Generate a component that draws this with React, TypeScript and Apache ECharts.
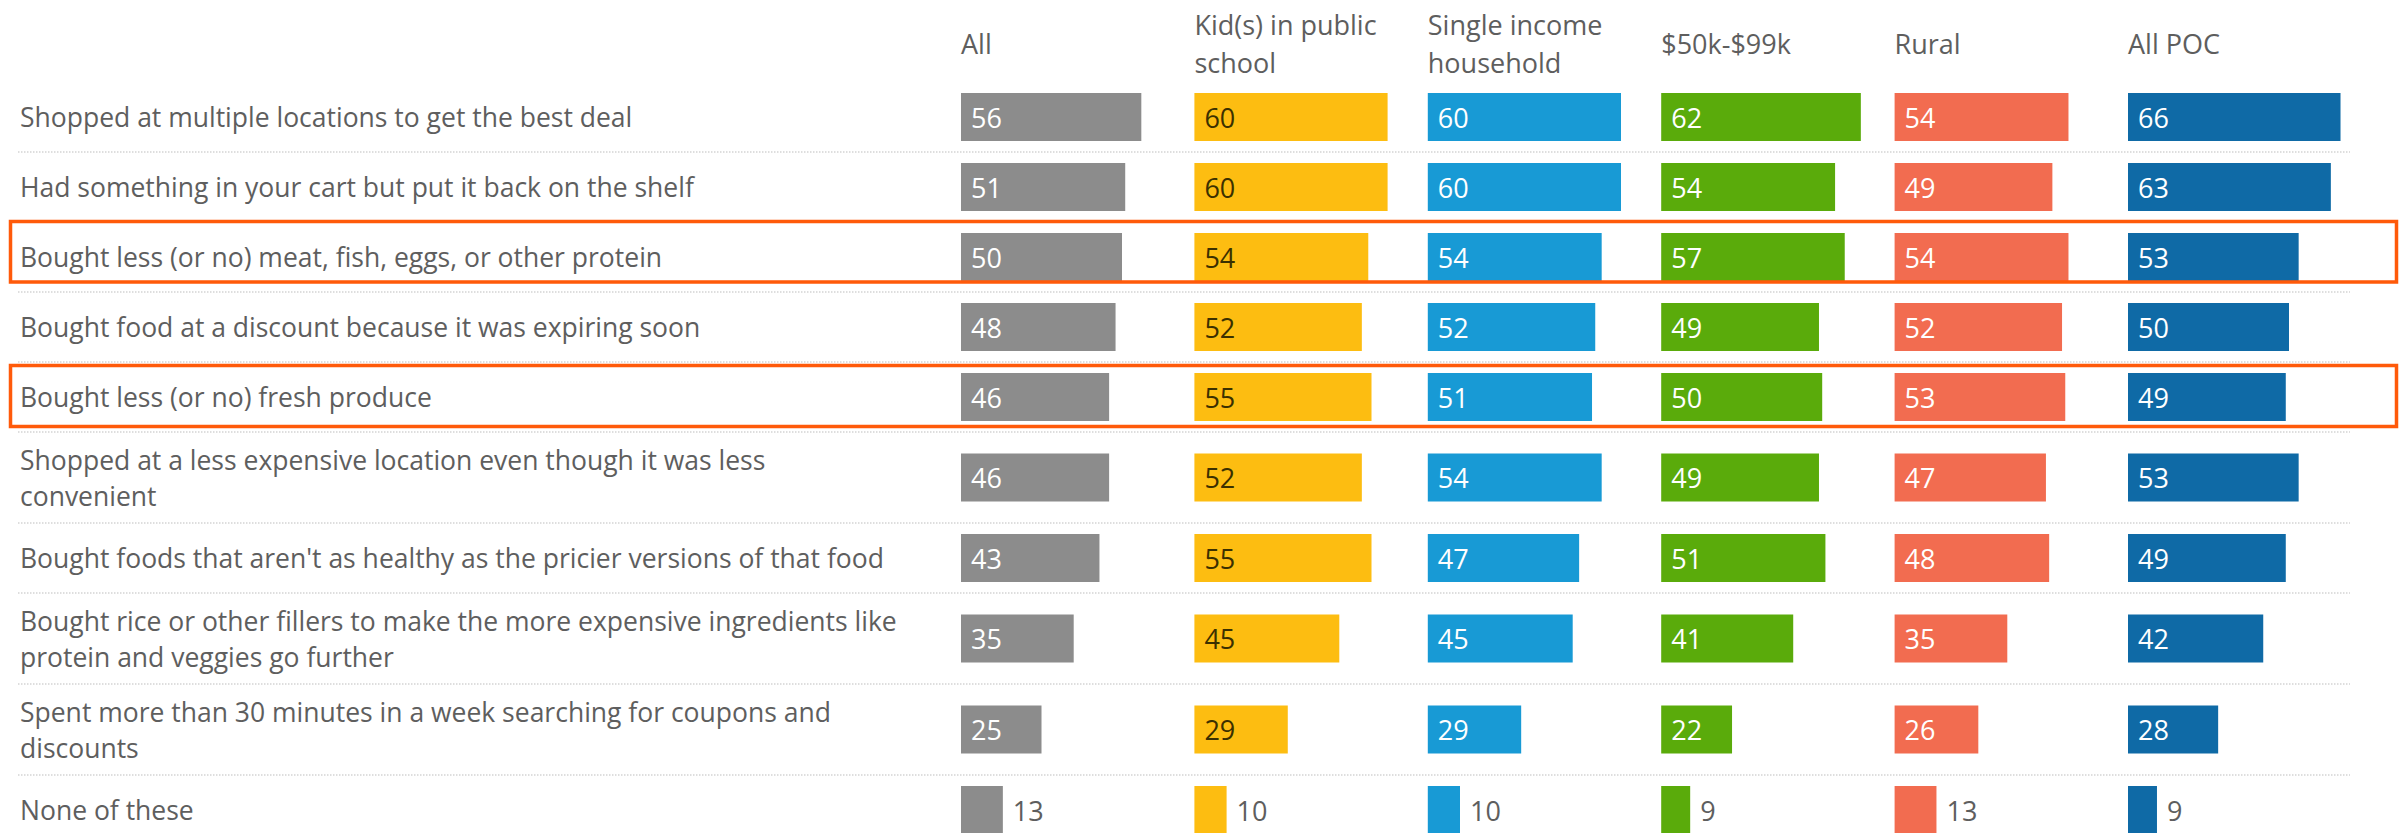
import React, { useEffect, useRef } from 'react';
import * as echarts from 'echarts';

// ---------- data ----------
const categories = [
  'Shopped at multiple locations to get the best deal',
  'Had something in your cart but put it back on the shelf',
  'Bought less (or no) meat, fish, eggs, or other protein',
  'Bought food at a discount because it was expiring soon',
  'Bought less (or no) fresh produce',
  'Shopped at a less expensive location even though it was less\nconvenient',
  "Bought foods that aren't as healthy as the pricier versions of that food",
  'Bought rice or other fillers to make the more expensive ingredients like\nprotein and veggies go further',
  'Spent more than 30 minutes in a week searching for coupons and\ndiscounts',
  'None of these',
];
const groups = ['All', 'Kid(s) in public\nschool', 'Single income\nhousehold', '$50k-$99k', 'Rural', 'All POC'];
const allValues = [56, 51, 50, 48, 46, 46, 43, 35, 25, 13];
const kidsValues = [60, 60, 54, 52, 55, 52, 55, 45, 29, 10];
const singleIncomeValues = [60, 60, 54, 52, 51, 54, 47, 45, 29, 10];
const midIncomeValues = [62, 54, 57, 49, 50, 49, 51, 41, 22, 9];
const ruralValues = [54, 49, 54, 52, 53, 47, 48, 35, 26, 13];
const pocValues = [66, 63, 53, 50, 49, 53, 49, 42, 28, 9];
const highlightedRows = [2, 4];

// ---------- styles / layout ----------
const seriesValues = [allValues, kidsValues, singleIncomeValues, midIncomeValues, ruralValues, pocValues];
const barColors = ['#8c8c8c', '#fdbd11', '#189ad5', '#5aab0b', '#f26c50', '#0f6aa6'];
const insideLabelColors = ['#ffffff', '#3b3000', '#ffffff', '#ffffff', '#ffffff', '#ffffff'];
const FONT = '"Open Sans", Lato, sans-serif';
const TEXT_COLOR = '#5e5e5e';
const COL0_LEFT = 961;
const COL_STEP = 233.4;
const COL_W = 233;
const PX_PER_UNIT = 3.22;
const HEADER_H = 82;
const ROW_H1 = 70;
const ROW_H2 = 91;
const BAR_H = 48;
const LABEL_X = 20;
const BOXES = [
  { y: 221.5, h: 60.5 },
  { y: 365.5, h: 61 },
];

export default function App() {
  const ref = useRef<HTMLDivElement>(null);
  useEffect(() => {
    document.body.style.margin = '0';
    const chart = echarts.init(ref.current!, null, { renderer: 'svg' });

    const rowH = categories.map((c) => (c.split('\n').length > 1 ? ROW_H2 : ROW_H1));
    const rowTop: number[] = [];
    let acc = HEADER_H;
    rowH.forEach((h) => {
      rowTop.push(acc);
      acc += h;
    });

    const grids: any[] = [];
    const xAxes: any[] = [];
    const yAxes: any[] = [];
    const series: any[] = [];
    categories.forEach((cat, r) => {
      seriesValues.forEach((vals, c) => {
        const idx = grids.length;
        const left = COL0_LEFT + c * COL_STEP;
        grids.push({
          left,
          width: COL_W,
          top: rowTop[r],
          height: rowH[r],
          containLabel: false,
          outerBoundsMode: 'none',
        });
        xAxes.push({ type: 'value', gridIndex: idx, min: 0, max: COL_W / PX_PER_UNIT, show: false });
        yAxes.push({
          type: 'category',
          gridIndex: idx,
          data: [cat],
          axisLine: { show: false },
          axisTick: { show: false },
          splitLine: { show: false },
          axisLabel: {
            show: c === 0,
            align: 'left',
            margin: left - LABEL_X,
            color: TEXT_COLOR,
            fontFamily: FONT,
            fontSize: 26.5,
            lineHeight: 36,
          },
        });
        const v = vals[r];
        const inside = v >= 20;
        series.push({
          type: 'bar',
          name: groups[c],
          xAxisIndex: idx,
          yAxisIndex: idx,
          data: [v],
          barWidth: BAR_H,
          itemStyle: { color: barColors[c] },
          label: {
            show: true,
            position: inside ? 'insideLeft' : 'right',
            distance: 10,
            color: inside ? insideLabelColors[c] : TEXT_COLOR,
            fontFamily: FONT,
            fontSize: 27,
          },
        });
      });
    });

    const graphics: any[] = [];
    groups.forEach((g, c) => {
      graphics.push({
        type: 'text',
        x: COL0_LEFT + c * COL_STEP,
        y: 43,
        style: {
          text: g,
          fill: TEXT_COLOR,
          fontFamily: FONT,
          fontSize: 27,
          lineHeight: 38,
          verticalAlign: 'middle',
        },
      });
    });
    rowTop.forEach((t, r) => {
      if (r === 0) return;
      graphics.push({
        type: 'line',
        z: 1,
        shape: { x1: 18, y1: t, x2: 2350, y2: t },
        style: { stroke: '#d4d4d4', lineWidth: 1.5, lineDash: [1.5, 1.5] },
      });
    });
    highlightedRows.forEach((r, i) => {
      const b = BOXES[i];
      graphics.push({
        type: 'rect',
        z: 10,
        shape: { x: 10.5, y: b.y, width: 2386, height: b.h },
        style: { fill: 'none', stroke: '#ff5a0a', lineWidth: 3.5 },
      });
    });

    chart.setOption({
      animation: false,
      backgroundColor: '#ffffff',
      grid: grids,
      xAxis: xAxes,
      yAxis: yAxes,
      series,
      graphic: graphics,
    });
    return () => chart.dispose();
  }, []);
  return <div ref={ref} style={{ width: 2407, height: 833 }} />;
}
